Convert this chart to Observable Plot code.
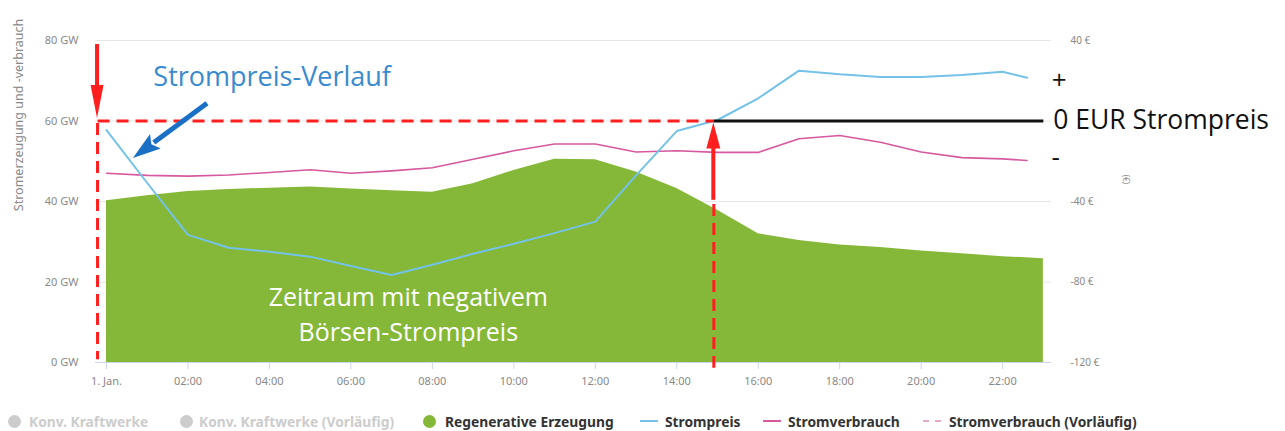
<!DOCTYPE html>
<html><head><meta charset="utf-8">
<script src="https://cdn.jsdelivr.net/npm/d3@7"></script>
<script src="https://cdn.jsdelivr.net/npm/@observablehq/plot@0.6"></script>
<style>
body{margin:0;background:#fff;font-family:"Noto Sans",sans-serif;}
#wrap{width:1285px;height:431px;overflow:hidden;}
#legend{position:relative;width:1285px;height:31px;font-family:"Noto Sans",sans-serif;font-weight:bold;font-size:13.8px;}
.li{position:absolute;top:5.5px;height:31px;line-height:31px;white-space:nowrap;}
.dot{position:absolute;top:14.5px;width:13px;height:13px;border-radius:50%;}
.ln{position:absolute;top:20px;width:18px;height:0;}
</style></head><body>
<div id="wrap"><div id="chart"></div><div id="legend"></div></div>
<script>
// ---- data ----
const hours = [0,1,2,3,4,5,6,7,8,9,10,11,12,13,14,15,16,17,18,19,20,21,22,23];
const erzeugung = [40.2,41.4,42.5,43.0,43.3,43.6,43.1,42.7,42.3,44.4,47.7,50.5,50.4,47.3,43.2,37.8,32.0,30.3,29.2,28.6,27.7,27.0,26.3,25.8];
const lineHours = [0,1,2,3,4,5,6,7,8,9,10,11,12,13,14,15,16,17,18,19,20,21,22,22.6];
const strompreis = [-4.5,-30.8,-56.6,-63,-65,-67.4,-72,-76.5,-71.4,-66,-61,-55.7,-50,-27,-5,0.5,11.3,25,23.2,21.9,21.9,22.9,24.5,21.5];
const verbrauch = [47.0,46.5,46.3,46.6,47.2,47.9,47.0,47.6,48.4,50.5,52.6,54.3,54.3,52.3,52.6,52.2,52.2,55.6,56.4,54.7,52.3,50.9,50.6,50.2];
const gwTicks = [0,20,40,60,80];
const priceTicks = [40,-40,-80,-120];
const xTicks = [0,2,4,6,8,10,12,14,16,18,20,22];
const xTickLabels = ["1. Jan.","02:00","04:00","06:00","08:00","10:00","12:00","14:00","16:00","18:00","20:00","22:00"];
const yTitle = "Stromerzeugung und -verbrauch";
const legendItems = [
  {name:"Konv. Kraftwerke", kind:"dot", color:"#cccccc", active:false},
  {name:"Konv. Kraftwerke (Vorläufig)", kind:"dot", color:"#cccccc", active:false},
  {name:"Regenerative Erzeugung", kind:"dot", color:"#85b838", active:true},
  {name:"Strompreis", kind:"line", color:"#74c2e8", active:true},
  {name:"Stromverbrauch", kind:"line", color:"#d6589f", active:true},
  {name:"Stromverbrauch (Vorläufig)", kind:"dash", color:"#e8a6cc", active:true}
];
// annotation texts
const noteBlue = "Strompreis-Verlauf";
const noteZero = "0 EUR Strompreis";
const noteArea = ["Zeitraum mit negativem", "Börsen-Strompreis"];

// ---- derived ----
const priceToGW = p => p / 2 + 60;
const genData = hours.map((h,i) => ({h, v: erzeugung[i]}));
const lineData = lineHours.map((h,i) => ({h, p: strompreis[i], c: verbrauch[i]}));

const RED = "#ff1f1f";
const NOTEFONT = "Open Sans, sans-serif";
const xStart = -0.22, xCross = 14.91;

function arrow(a) {
  return (index, scales) => {
    const X = scales.x, Y = scales.y;
    const x1 = X(a.x1), y1 = Y(a.y1), x2 = X(a.x2), y2 = Y(a.y2);
    const dx = x2 - x1, dy = y2 - y1, L = Math.hypot(dx, dy), ux = dx / L, uy = dy / L;
    const bx = x2 - ux * a.head, by = y2 - uy * a.head;
    const px = -uy * a.hw / 2, py = ux * a.hw / 2;
    const g = d3.create("svg:g");
    g.append("line").attr("x1", x1).attr("y1", y1).attr("x2", bx + ux * 2).attr("y2", by + uy * 2)
      .attr("stroke", a.color).attr("stroke-width", a.w);
    g.append("path").attr("d", `M${x2},${y2}L${bx + px},${by + py}L${bx + ux * a.notch},${by + uy * a.notch}L${bx - px},${by - py}Z`)
      .attr("fill", a.color);
    return g.node();
  };
}

const chart = Plot.plot({
  width: 1285, height: 400,
  marginLeft: 95, marginRight: 234, marginTop: 40, marginBottom: 38,
  x: {domain: [-0.27, 23.2]},
  y: {domain: [0, 80]},
  style: {fontFamily: "Noto Sans, sans-serif", fontSize: "11px", background: "#fff", color: "#777"},
  marks: [
    Plot.gridY(gwTicks.filter(d => d > 0), {stroke: "#e6e6e6", strokeOpacity: 1, strokeWidth: 1}),
    Plot.axisY(gwTicks, {anchor: "left", tickSize: 0, tickPadding: 17, label: null, tickFormat: d => d + " GW", fill: "#888"}),
    Plot.axisY(priceTicks, {anchor: "right", y: priceToGW, tickSize: 0, tickPadding: 19, label: null, tickFormat: d => d + " €", fill: "#888", fontSize: 10}),
    Plot.axisX(xTicks, {anchor: "bottom", tickSize: 7, tickPadding: 8, label: null, stroke: "#ccd6eb", fill: "#888",
      tickFormat: (d, i) => xTickLabels[xTicks.indexOf(d)]}),
    Plot.text([yTitle], {frameAnchor: "left", dx: -77, y: 61.5, rotate: -90, textAnchor: "middle", fill: "#888", fontSize: 12.5}),
    Plot.text(["(€)"], {frameAnchor: "right", dx: 74, y: 45.5, rotate: 90, textAnchor: "middle", fill: "#888", fontSize: 8}),
    Plot.areaY(genData, {x: "h", y: "v", fill: "#85b838"}),
    Plot.ruleY([0], {stroke: "#ccd6eb"}),
    Plot.line(lineData, {x: "h", y: "c", stroke: "#d6589f", strokeWidth: 1.6}),
    Plot.line(lineData, {x: "h", y: d => priceToGW(d.p), stroke: "#74c2e8", strokeWidth: 2}),
    // annotations
    Plot.link([{x1: xStart, y1: 60, x2: xCross, y2: 60}], {x1: "x1", y1: "y1", x2: "x2", y2: "y2", stroke: RED, strokeWidth: 3, strokeDasharray: "12,7"}),
    Plot.link([{x1: xStart, y1: 59.5, x2: xStart, y2: 0.8}], {x1: "x1", y1: "y1", x2: "x2", y2: "y2", stroke: RED, strokeWidth: 3, strokeDasharray: "12,7"}),
    Plot.link([{x1: xCross, y1: 39.4, x2: xCross, y2: -1.3}], {x1: "x1", y1: "y1", x2: "x2", y2: "y2", stroke: RED, strokeWidth: 3, strokeDasharray: "12,7"}),
    Plot.link([{x1: xCross, y1: 60, x2: 23.0, y2: 60}], {x1: "x1", y1: "y1", x2: "x2", y2: "y2", stroke: "#111", strokeWidth: 3}),
    arrow({x1: xStart, y1: 79, x2: xStart, y2: 60.6, head: 33, hw: 13, w: 4, notch: 0, color: RED}),
    arrow({x1: xCross, y1: 40.3, x2: xCross, y2: 59.5, head: 26, hw: 14, w: 4, notch: 0, color: RED}),
    arrow({x1: 2.48, y1: 64.3, x2: 0.66, y2: 50.7, head: 28, hw: 18, w: 5, notch: 5, color: "#1a70c4"}),
    Plot.text([noteBlue], {x: 1.15, y: 70.8, text: d => d, textAnchor: "start", fill: "#3a8ad0", fontSize: 27, fontFamily: NOTEFONT}),
    Plot.text([noteZero], {x: 23.24, y: 60, text: d => d, textAnchor: "start", fill: "#111", fontSize: 26.5, fontFamily: NOTEFONT}),
    Plot.text(["+"], {x: 23.39, y: 70.1, fill: "#111", fontSize: 26, fontFamily: NOTEFONT}),
    Plot.text(["-"], {x: 23.3, y: 51.0, fill: "#111", fontSize: 26, fontFamily: NOTEFONT}),
    Plot.text([noteArea.join("\n")], {x: 7.41, y: 12.4, text: d => d, fill: "#fff", fontSize: 25, lineHeight: 1.37, fontFamily: NOTEFONT})
  ]
});
document.getElementById("chart").appendChild(chart);

// legend
const legendX = [{s:14, t:29}, {s:186, t:199}, {s:429, t:445}, {s:649, t:665}, {s:772, t:788}, {s:932, t:949}];
const leg = d3.select("#legend");
legendItems.forEach((it, i) => {
  const p = legendX[i];
  if (it.kind === "dot") {
    leg.append("div").attr("class", "dot").style("left", (p.s - 6.5) + "px").style("background", it.color);
  } else {
    leg.append("div").attr("class", "ln").style("left", (p.s - 9) + "px")
      .style("border-top", `2px ${it.kind === "dash" ? "dashed" : "solid"} ${it.color}`);
  }
  leg.append("div").attr("class", "li").style("left", p.t + "px").style("color", it.active ? "#333" : "#cccccc").text(it.name);
});
</script>
</body></html>
